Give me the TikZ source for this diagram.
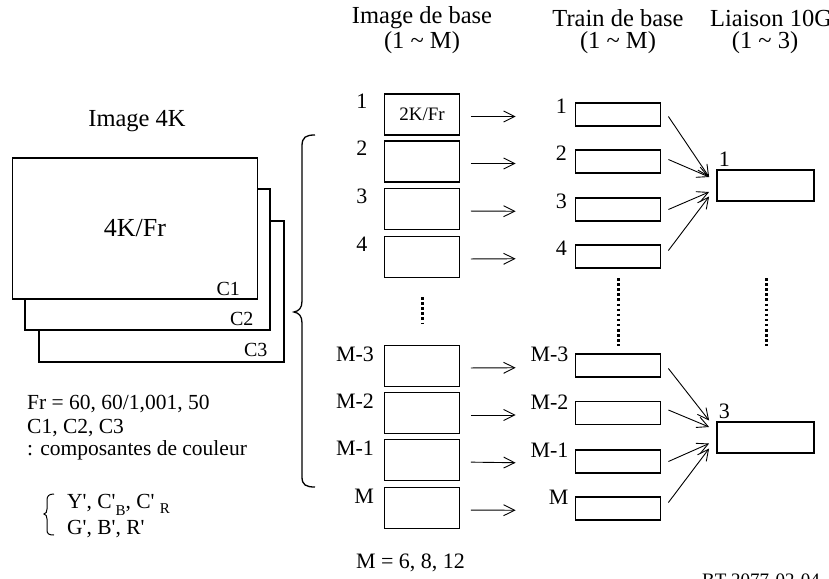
\documentclass[tikz,border=0pt]{standalone}
\usepackage{fontspec}
\setmainfont{Liberation Serif}[Ligatures=TeXOff]
\usetikzlibrary{arrows.meta,calc}
\newcommand{\lowsub}[2]{\raisebox{-#1pt}{\fontsize{15}{15}\selectfont #2}}
\begin{document}
\begin{tikzpicture}[x=1pt,y=-1pt,
  every node/.style={font=\fontsize{22}{24}\selectfont, inner sep=0pt},
  head/.style={font=\fontsize{24.5}{26}\selectfont},
  note/.style={font=\fontsize{21.5}{24}\selectfont, anchor=base west},
  frame/.style={draw, line width=1.3pt, fill=white, minimum width=245pt, minimum height=141pt},
  ibox/.style={draw, line width=1.8pt, minimum width=75pt, minimum height=41pt},
  tbox/.style={draw, line width=1.8pt, minimum width=85pt, minimum height=23pt},
  lbox/.style={draw, line width=1.8pt, minimum width=97pt, minimum height=31pt},
  arr/.style={line width=0.9pt, -{Straight Barb[length=11pt,width=11pt]}},
  dotline/.style={line width=3pt, dash pattern=on 2.5pt off 2.6pt},
  bracepath/.style={line width=1.3pt},
  lbl/.style={anchor=north east},
  clbl/.style={anchor=east, font=\fontsize{20}{22}\selectfont}
]
\useasboundingbox (0,0) rectangle (829,578);

% left stack
\node[font=\fontsize{24.5}{26}\selectfont] (t4k) at (137,121) {Image 4K};
\node[frame] (c3) at (161.5,291.5) {};
\node[frame] (c2) at (147.5,259.5) {};
\node[frame] (c1) at (135,228.5) {};
\node[font=\fontsize{26}{28}\selectfont] (t4kfr) at (c1.center) {4K/Fr};
\node[clbl] (lc1) at ($(c1.south east)+(-18,-11)$) {C1};
\node[clbl] (lc2) at ($(c2.south east)+(-17,-12)$) {C2};
\node[clbl] (lc3) at ($(c3.south east)+(-17,-13)$) {C3};

% notes
\node[note] (n1) at (27,409) {Fr = 60, 60/1,001, 50};
\node[note] (n2) at (27,433) {C1, C2, C3};
\node[note] (n3) at (27,455) {: composantes de couleur};
\node[note] (n4) at (67,508) {Y', C'\lowsub{7}{B}, C' \lowsub{5}{R}};
\node[note] (n5) at (67,534) {G', B', R'};
\draw[line width=1pt] (54,494) .. controls (49,494) and (47,496) .. (47,500) -- (47,509)
  .. controls (47,512) and (46,513.5) .. (44,514) .. controls (46,514.5) and (47,516) .. (47,519)
  -- (47,530) .. controls (47,534) and (49,535) .. (54,535);

% big brace
\draw[bracepath] (315,135) .. controls (306,135) and (302,137) .. (302,146) -- (302,301)
  .. controls (302,308) and (299,311) .. (294,312) .. controls (299,313) and (302,316) .. (302,323)
  -- (302,477) .. controls (302,485) and (306,487) .. (315,487);

% headers
\node[head] (h1a) at (422,18) {Image de base};
\node[head] (h1b) at (422,43) {(1 \char`\~{} M)};
\node[head] (h2a) at (618,18) {Train de base};
\node[head] (h2b) at (618,43) {(1 \char`\~{} M)};
\node[head, anchor=west] (h3a) at (710,18) {Liaison 10G};
\node[head] (h3b) at (765,43) {(1 \char`\~{} 3)};

% image de base boxes
\node[ibox] (ib1) at (422,114.5) {\fontsize{19}{20}\selectfont 2K/Fr};
\node[ibox] (ib2) at (422,161.5) {};
\node[ibox] (ib3) at (422,209) {};
\node[ibox] (ib4) at (422,257) {};
\node[ibox] (ib5) at (422,366) {};
\node[ibox] (ib6) at (422,413) {};
\node[ibox] (ib7) at (422,460) {};
\node[ibox] (ib8) at (422,508) {};
\node[lbl] (li1) at ($(ib1.north west)+(-16,1)$) {1};
\node[lbl] (li2) at ($(ib2.north west)+(-16,1)$) {2};
\node[lbl] (li3) at ($(ib3.north west)+(-16,1)$) {3};
\node[lbl] (li4) at ($(ib4.north west)+(-16,1)$) {4};
\node[lbl] (li5) at ($(ib5.north west)+(-9.5,2)$) {M-3};
\node[lbl] (li6) at ($(ib6.north west)+(-9.5,2)$) {M-2};
\node[lbl] (li7) at ($(ib7.north west)+(-9.5,2)$) {M-1};
\node[lbl] (li8) at ($(ib8.north west)+(-9.5,2)$) {M};

% train de base boxes
\node[tbox] (tb1) at (618,114.5) {};
\node[tbox] (tb2) at (618,161.5) {};
\node[tbox] (tb3) at (618,209.5) {};
\node[tbox] (tb4) at (618,256.5) {};
\node[tbox] (tb5) at (618,365.5) {};
\node[tbox] (tb6) at (618,413) {};
\node[tbox] (tb7) at (618,461.5) {};
\node[tbox] (tb8) at (618,508.5) {};
\node[lbl] (lt1) at ($(tb1.north west)+(-7.5,-3)$) {1};
\node[lbl] (lt2) at ($(tb2.north west)+(-7.5,-3)$) {2};
\node[lbl] (lt3) at ($(tb3.north west)+(-7.5,-3)$) {3};
\node[lbl] (lt4) at ($(tb4.north west)+(-7.5,-3)$) {4};
\node[lbl] (lt5) at ($(tb5.north west)+(-6,-6)$) {M-3};
\node[lbl] (lt6) at ($(tb6.north west)+(-6,-6)$) {M-2};
\node[lbl] (lt7) at ($(tb7.north west)+(-6,-6)$) {M-1};
\node[lbl] (lt8) at ($(tb8.north west)+(-6,-6)$) {M};

% liaison boxes
\node[lbox] (lb1) at (765.5,185.5) {};
\node[lbox] (lb3) at (765.5,437.5) {};
\node[anchor=south west] (ll1) at ($(lb1.north west)+(2.5,-2)$) {1};
\node[anchor=south west] (ll3) at ($(lb3.north west)+(2.5,-2)$) {3};

% horizontal arrows
\foreach \i in {1,...,8}{
  \draw[arr, shorten <=10.5pt, shorten >=59pt] ([yshift=-2pt]ib\i.east) -- ([yshift=-2pt]tb\i.west);
}

% converging arrows
\draw[arr] ($(tb1.east)+(7,2)$) -- ($(lb1.west)+(-7,-8.5)$);
\draw[arr] ($(tb2.east)+(7,-2)$) -- ($(lb1.west)+(-7,-8.5)$);
\draw[arr] ($(tb3.east)+(7,0)$) -- ($(lb1.west)+(-7,6.5)$);
\draw[arr] ($(tb4.east)+(7,-6)$) -- ($(lb1.west)+(-7,11)$);
\draw[arr] ($(tb5.east)+(7,3)$) -- ($(lb3.west)+(-7,-17)$);
\draw[arr] ($(tb6.east)+(7,-3)$) -- ($(lb3.west)+(-7,-10.5)$);
\draw[arr] ($(tb7.east)+(7,0)$) -- ($(lb3.west)+(-7,6)$);
\draw[arr] ($(tb8.east)+(7,-6)$) -- ($(lb3.west)+(-7,11)$);

% dotted
\coordinate (d1a) at (422,297); \coordinate (d1b) at (422,324);
\coordinate (d2a) at (618,278); \coordinate (d2b) at (618,346);
\coordinate (d3a) at (766,278); \coordinate (d3b) at (766,346);
\draw[dotline] (d1a) -- (d1b);
\draw[dotline] (d2a) -- (d2b);
\draw[dotline] (d3a) -- (d3b);

% bottom texts
\node (mtxt) at (410.5,563) {M = 6, 8, 12};
\node[anchor=west, font=\fontsize{19}{20}\selectfont] (ref) at (702,580) {BT 2077-02-04};
\end{tikzpicture}
\end{document}
